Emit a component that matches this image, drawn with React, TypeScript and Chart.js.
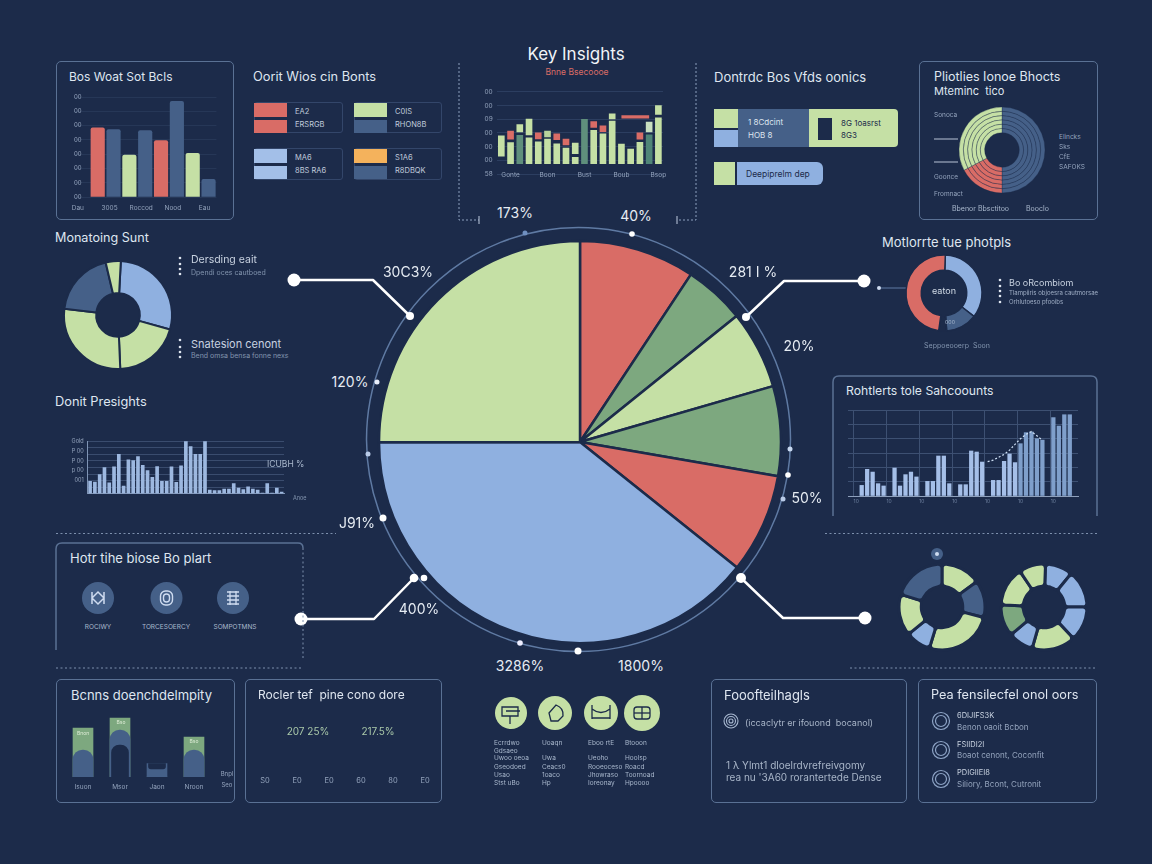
import React, { useEffect, useRef } from "react";
import { Chart, registerables } from "chart.js";
Chart.register(...registerables);

const BG = "#1c2b4a", LIME = "#c5e0a5", RED = "#d96c66", GREEN = "#7da87f", BLUE = "#8fb0e0", NAVY = "#456088", ORANGE = "#f4b25c";
const FONT = "Inter, 'Noto Sans', sans-serif";
const DIM = "#94a4bd";

// main pie
const pieLabels = ["A", "B", "C", "D", "E", "F", "G"];
const pieValues = [9.3, 4.9, 6.3, 7.2, 8.0, 39.2, 25.0];
const pieColors = [RED, GREEN, LIME, GREEN, RED, BLUE, LIME];
const pieTexts: [string, number, number][] = [["173%", 515, 213], ["40%", 636, 216], ["30C3%", 408, 272], ["281 I %", 753, 272], ["20%", 799, 346], ["120%", 350, 382], ["50%", 807, 498], ["J91%", 357, 523], ["400%", 419, 609], ["3286%", 520, 666], ["1800%", 641, 666]];

// top-left bars
const tlCats = ["Dau", "", "3005", "", "Roccod", "", "Nood", "", "Eau"];
const tlValues = [null, 4.84, 4.72, 2.93, 4.65, 3.95, 6.7, 3.05, 1.23];
const tlColors = [NAVY, RED, NAVY, LIME, NAVY, RED, NAVY, LIME, NAVY];

// key insights
const kiCats = ["", "Gonte", "", "", "", "Boon", "", "", "", "Bust", "", "", "", "Boub", "", "", "", "Bsop"];
const kiYLabels = ["58", "00", "00", "00", "09", "00", "00"];
const kiLower = [[1.31, 2.79], [.76, 2.29], [.76, 2.83], [.76, 2.64], [.76, 2.36], [.76, 2.55], [.76, 2.21], [.76, 1.9], [.76, 1.21], [.76, 4.0], [.76, 3.19], [.76, 2.93], [.76, 3.86], [.76, 2.19], [.76, 1.83], [.76, 2.31], [.76, 2.86], [.76, 4.1]];
const kiLowerColors = [LIME, LIME, "#5f8f7c", LIME, LIME, LIME, LIME, LIME, LIME, "#5f8f7c", LIME, LIME, LIME, LIME, LIME, LIME, "#4f8577", LIME];
const kiUpper = [null, [2.55, 3.14], [3.07, 3.62], [2.86, 4.02], [2.57, 3.0], [2.71, 3.14], [2.5, 2.93], [2.12, 2.55], [1.48, 2.26], null, [3.4, 3.83], [3.1, 3.52], [4.02, 4.4], null, null, [2.55, 3.0], [3.07, 3.79], [4.36, 5.0]];
const kiUpperColors = [LIME, RED, LIME, LIME, RED, "#b9d29c", RED, RED, LIME, LIME, RED, RED, LIME, LIME, LIME, RED, "#c8dfc0", LIME];
const kiLine = [null, null, null, null, null, null, null, null, null, null, null, null, null, 4.17, 4.17, 4.17, 4.17, null];

// rings panel
const stripeValues = [50, 17.2, 32.8];
const stripeColors = [NAVY, RED, LIME];

// monitoring donut
const monValues = [28.5, 20, 27.5, 19.5, 4.5];
const monColors = [BLUE, LIME, LIME, NAVY, LIME];

// insights bars
const prYLabels = ["Gold", "P 00", "P 00", "p 00", "001"];
const prValues = [1.88, 1.79, 2.92, 4.0, 1.65, 4.09, 6.02, 1.18, 5.18, 5.04, 5.65, 4.33, 3.53, 2.49, 4.14, 1.88, 1.88, 4.09, 1.74, 4.24, 8, 7.2, 6.02, 6.02, 8, .56, .47, .47, .71, .71, 1.55, .85, .61, 1.04, .71, .56, .1, 1.55, .09, .85, .24];

// right top donut
const mtValues = [126, 48, 12, 174];
const mtColors = [BLUE, NAVY, "rgba(0,0,0,0)", RED];

// right bars
const rbValues = [null, null, .74, 1.86, 1.67, .86, .7, null, 1.95, .7, 1.49, 1.67, 1.33, null, 1.02, 1.02, 2.79, 2.79, .86, null, .79, .79, 3.14, 3.07, 2.37, null, 1.09, 1.09, 2.42, 2.93, 2.33, 3.65, 4.42, 4.47, 4.0, 3.9, null, 5.47, 4.88, 5.67, 5.67, null];
const rbLine = [null, null, null, null, null, null, null, null, null, null, null, null, null, null, null, null, null, null, null, null, null, null, null, null, null, 2.4, 2.5, 2.7, 2.9, 3.2, 3.6, 4.0, 4.3, 4.5, 4.2, 3.9, null, null, null, null, null, null];

// lower-right donuts
const d1Values = [54, 50, 93, 34, 56, 73];
const d1Colors = [LIME, NAVY, LIME, BLUE, LIME, NAVY];
const d2Values = [37, 51, 47, 59, 34, 43, 53, 36];
const d2Colors = [BLUE, BLUE, BLUE, LIME, BLUE, GREEN, LIME, LIME];

// bottom-left bars
const blCats = ["Isuon", "Msor", "Jaon", "Nroon"];
const blGreen = [49, 59, 0, 40];
const blNavy = [27, 47, 13.5, 27];
const blInner = [null, [0, 32], [8, 13.5], null];

// bottom-middle axis chart
const emptyCats = ["S0", "E0", "E0", "60", "80", "E0"];
const emptyValues = [null, null, null, null, null, null];

const legendGroups = [
  { x: 254, y: 102, h: 31, c1: RED, c2: RED, t1: "EA2", t2: "ERSRGB", w: 89 },
  { x: 354, y: 102, h: 31, c1: LIME, c2: NAVY, t1: "C0IS", t2: "RHON8B", w: 88 },
  { x: 254, y: 148, h: 32, c1: "#a3bfe8", c2: "#a3bfe8", t1: "MA6", t2: "8BS RA6", w: 89 },
  { x: 354, y: 148, h: 32, c1: ORANGE, c2: NAVY, t1: "S1A6", t2: "R8DBQK", w: 88 },
];

const hideTip = { legend: { display: false }, tooltip: { enabled: false } };
const base = { animation: false, responsive: false, plugins: hideTip };
const tickFont = (size: number) => ({ size, family: FONT });
const none = "rgba(0,0,0,0)";

function ChartBox({ x, y, w, h, make }: any) {
  const ref = useRef<HTMLCanvasElement>(null);
  useEffect(() => {
    const c = new Chart(ref.current as any, make());
    return () => c.destroy();
  }, []);
  return <canvas ref={ref} width={w} height={h} style={{ position: "absolute", left: x, top: y, width: w, height: h }} />;
}

function T({ x, y, s = 10, c = "#dfe6f0", a = "left", w = 400, children }: any) {
  const tx = a === "center" ? "translate(-50%,-50%)" : "translateY(-50%)";
  return <div style={{ position: "absolute", left: x, top: y, transform: tx, fontSize: s, color: c, fontWeight: w, whiteSpace: "pre", lineHeight: 1, fontFamily: FONT }}>{children}</div>;
}

function Panel({ x, y, w, h, c = "#5a7194", r = 5, bw = 1.5 }: any) {
  return <div style={{ position: "absolute", left: x, top: y, width: w, height: h, boxSizing: "border-box", border: `${bw}px solid ${c}`, borderRadius: r }} />;
}

function Rect({ x, y, w, h, c, r = 0 }: any) {
  return <div style={{ position: "absolute", left: x, top: y, width: w, height: h, background: c, borderRadius: r }} />;
}

function donut(values: number[], colors: string[], radius: number, cutout: number, rotation: number, bw = 2, borderRadius = 0) {
  return () => ({
    type: "doughnut",
    data: { labels: values.map((_, i) => String(i)), datasets: [{ data: values, backgroundColor: colors, borderColor: BG, borderWidth: bw, borderRadius }] },
    options: { ...base, radius, cutout, rotation },
  });
}

const Dots = ({ x, ys }: any) => <>{ys.map((y: number) => <circle key={y} cx={x} cy={y} r={1.3} fill="#dfe6f0" />)}</>;

function Decor() {
  const line = { fill: "none", stroke: "#fff", strokeWidth: 2.5, strokeLinejoin: "round" as const };
  const dash = { stroke: "#7d90ad", strokeWidth: 1, strokeDasharray: "2 2.5" };
  const ringDots: [number, number, number, string][] = [[525, 233, 2.5, "#6f8fc0"], [632, 234, 2.8, "#fff"], [377, 382, 2.5, "#e8eefa"], [368, 454, 2.5, "#b9cbe8"], [383, 518, 3.5, "#fff"], [520, 643, 2.8, "#eef"], [578, 651, 3.5, "#fff"], [790, 449, 2.5, "#c8d8f0"], [788, 475, 2.8, "#fff"], [783, 499, 2.5, "#b9cbe8"]];
  const glyph = "#cfdcf0";
  return (
    <svg width={1152} height={864} style={{ position: "absolute", left: 0, top: 0 }}>
      <circle cx={578.5} cy={439.5} r={212} fill="none" stroke="#5f7aa3" strokeWidth={1.5} />
      {ringDots.map(([x, y, r, c]) => <circle key={x} cx={x} cy={y} r={r} fill={c} />)}
      <polyline points="294,280 373,280 410,316" {...line} />
      <polyline points="864,281 784,281 746,317" {...line} />
      <polyline points="301,619 374,619 414,578" {...line} />
      <polyline points="865,618 783,618 741,578" {...line} />
      {[[294, 280, 6.5], [410, 316, 4], [864, 281, 6.5], [746, 317, 4], [301, 619, 6.5], [414, 578, 4.3], [424, 578, 3.3], [865, 618, 6.5], [741, 578, 5]].map(([x, y, r]) => <circle key={x} cx={x} cy={y} r={r} fill="#fff" />)}
      <line x1={879} y1={288} x2={907} y2={288} stroke="#5f7aa3" strokeWidth={1} />
      <circle cx={879} cy={288} r={2} fill="#cfdcf0" />
      {/* dashed separators */}
      <line x1={56} y1={533.5} x2={336} y2={533.5} {...dash} />
      <line x1={825} y1={533.5} x2={1097} y2={533.5} {...dash} />
      <line x1={56} y1={668} x2={302} y2={668} {...dash} />
      <line x1={850} y1={668} x2={1097} y2={668} {...dash} />
      <line x1={303} y1={548} x2={303} y2={660} {...dash} />
      {/* key insights brackets */}
      <polyline points="459,63 459,220 479,220" fill="none" stroke="#8ca0bd" strokeWidth={1} strokeDasharray="2 2" />
      <line x1={479} y1={216} x2={479} y2={224} stroke="#c0cde0" strokeWidth={1} />
      <polyline points="696,63 696,220 677,220" fill="none" stroke="#8ca0bd" strokeWidth={1} strokeDasharray="2 2" />
      <line x1={677} y1={216} x2={677} y2={224} stroke="#c0cde0" strokeWidth={1} />
      {/* open panels */}
      <path d="M56 650 V549 Q56 543 62 543 H298 Q303 543 303 548" fill="none" stroke="#5a7194" strokeWidth={1.5} />
      <path d="M833 516 V382 Q833 376 839 376 H1091 Q1097 376 1097 382 V516" fill="none" stroke="#5a7194" strokeWidth={1.5} />
      {/* text bullets */}
      <Dots x={180} ys={[258, 264, 269, 274]} />
      <Dots x={180} ys={[340, 347, 352, 357]} />
      <Dots x={1000} ys={[280, 286, 291, 296, 302]} />
      {/* ring panel leaders */}
      {[139, 162].map((y) => <line key={y} x1={934} y1={y} x2={958} y2={y} stroke="#b8c4d6" strokeWidth={1} />)}
      {/* navy icon circles */}
      {[98, 166.5, 233].map((x) => <circle key={x} cx={x} cy={598} r={16} fill={NAVY} />)}
      <path d="M92 592 V604 M104 592 V604 M92 598 L98 592 L104 598 M92 598 L98 604 L104 598" fill="none" stroke={glyph} strokeWidth={1.5} />
      <g fill="none" stroke={glyph} strokeWidth={1.4}><rect x={160.5} y={591} width={12} height={14} rx={5} /><rect x={163.5} y={594} width={6} height={8} rx={3} /></g>
      <path d="M227 592 H239 M227 596 H239 M227 600 H239 M227 604 H239 M230 591 V605 M236 591 V605" fill="none" stroke={glyph} strokeWidth={1.3} />
      {/* lime icon circles */}
      {[[511, 16], [555, 17], [601, 17], [642, 18]].map(([x, r]) => <circle key={x} cx={x} cy={713} r={r} fill={LIME} />)}
      <g fill="none" stroke={BG} strokeWidth={1.3}>
        <path d="M502 707 H518 V716 H502 Z M506 711 H520 M510 716 V724" />
        <path d="M549 713 L556 705 Q564 708 563 716 L558 721 H551 Z" />
        <path d="M592 705 V719 M610 705 V719 M592 709 Q601 716 610 709 M592 718 H610" />
        <rect x={634} y={707} width={16} height={12} rx={3} />
        <line x1={642} y1={707} x2={642} y2={719} />
        <line x1={634} y1={713} x2={650} y2={713} />
      </g>
      <circle cx={937} cy={554} r={6} fill={NAVY} />
      <circle cx={937} cy={554} r={2} fill="#cfdcf0" />
      {[721, 750, 779].map((y) => <g key={y} fill="none" stroke="#8ea4c6" strokeWidth={1.2}><circle cx={941} cy={y} r={8.5} /><circle cx={941} cy={y} r={5.5} /></g>)}
      <g fill="none" stroke="#a8b8d0" strokeWidth={1.1}><circle cx={731} cy={721} r={7} /><circle cx={731} cy={721} r={4.5} /><circle cx={731} cy={721} r={2} /></g>
    </svg>
  );
}

export default function App() {
  useEffect(() => {
    document.body.style.margin = "0";
    document.body.style.background = BG;
  }, []);

  const mainPie = () => ({
    type: "pie",
    data: { labels: pieLabels, datasets: [{ data: pieValues, backgroundColor: pieColors, borderColor: BG, borderWidth: 2.5 }] },
    options: { ...base, radius: 201 },
  });

  const tlChart = () => ({
    type: "bar",
    data: { labels: tlCats, datasets: [{ data: tlValues, backgroundColor: tlColors, barThickness: 13.5, borderRadius: 2 }] },
    options: {
      ...base, layout: { padding: { top: 7 } },
      scales: {
        x: { grid: { display: false, drawTicks: false }, border: { display: false }, afterFit: (s: any) => { s.height = 15; }, ticks: { autoSkip: false, maxRotation: 0, padding: 7, labelOffset: -4, color: DIM, font: tickFont(6.5) } },
        y: { min: 0, max: 7, afterFit: (s: any) => { s.width = 0.6; }, border: { display: false }, grid: { color: "#263757", drawTicks: false }, ticks: { stepSize: 1, mirror: true, padding: 0, color: DIM, font: tickFont(6), callback: () => "00" } },
      },
    },
  });

  const kiChart = () => ({
    type: "bar",
    data: {
      labels: kiCats,
      datasets: [
        { type: "line", data: kiLine, borderColor: RED, borderWidth: 3.3, pointRadius: 0, order: 0 },
        { data: kiLower, backgroundColor: kiLowerColors, barThickness: 6, grouped: false, order: 2 },
        { data: kiUpper, backgroundColor: kiUpperColors, barThickness: 6, grouped: false, order: 1 },
      ],
    },
    options: {
      ...base, layout: { padding: { top: 6, right: 5 } },
      scales: {
        x: {
          grid: { display: false, drawTicks: false }, border: { display: false },
          // the labels sit level with the lowest y tick, so they must not be clipped to the axis box
          afterFit: (s: any) => { s.height = 12; s._computeLabelArea = () => undefined; },
          ticks: { autoSkip: false, maxRotation: 0, padding: -3, color: DIM, font: tickFont(6.5) },
        },
        y: { min: 0, max: 6, afterFit: (s: any) => { s.width = 18.7; }, border: { display: false }, grid: { color: "#2c3e60", drawTicks: false }, ticks: { stepSize: 1, padding: 4, color: DIM, font: tickFont(6.5), callback: (_: any, i: number) => kiYLabels[i] } },
      },
    },
  });

  const stripes = () => ({
    type: "doughnut",
    data: { labels: ["a", "b", "c"], datasets: [0, 1, 2, 3, 4, 5].map(() => ({ data: stripeValues, backgroundColor: stripeColors, borderColor: "rgba(28,43,74,0.55)", borderWidth: 0.6 })) },
    options: { ...base, radius: 43, cutout: 20 },
  });

  const prChart = () => ({
    type: "bar",
    data: { labels: prValues.map((_, i) => String(i)), datasets: [{ data: prValues, backgroundColor: "#9db8e0", barThickness: 3 }] },
    options: {
      ...base, layout: { padding: { top: 6, right: 4 } },
      scales: {
        x: { display: true, grid: { display: false }, border: { color: "#7f94b5" }, ticks: { display: false }, afterFit: (s: any) => { s.height = 4; } },
        y: {
          min: 0, max: 8, afterFit: (s: any) => { s.width = 27.7; }, border: { color: "#7f94b5" },
          grid: { drawTicks: false, color: (c: any) => (Number.isInteger(c.tick.value) ? "#3a4c6e" : none) },
          ticks: { stepSize: 0.5, autoSkip: false, padding: 4, color: DIM, font: tickFont(5.5), callback: (v: number) => { const k = (8 - v) / 1.5; return Number.isInteger(k) && prYLabels[k] ? prYLabels[k] : ""; } },
        },
      },
    },
  });

  const rbChart = () => ({
    type: "bar",
    data: {
      labels: rbValues.map((_, i) => (i % 6 === 1 ? "10" : "")),
      datasets: [
        { type: "line", data: rbLine, borderColor: "#cfe0f5", borderWidth: 1.2, borderDash: [2, 2], pointRadius: 0, order: 0 },
        { data: rbValues, backgroundColor: rbValues.map((_, i) => (i > 30 ? "#7f9fcb" : "#a5bfe8")), barThickness: 3.6, order: 1 },
      ],
    },
    options: {
      ...base, layout: { padding: { top: 6, right: 4 } },
      scales: {
        x: { border: { color: "#8ea0bc" }, afterFit: (s: any) => { s.height = 10; }, grid: { drawTicks: false, color: (c: any) => (c.index % 6 === 1 ? "#3d5072" : none) }, ticks: { autoSkip: false, maxRotation: 0, padding: 2, color: "#6f82a0", font: tickFont(5) } },
        y: { min: 0, max: 6, afterFit: (s: any) => { s.width = 8; }, border: { display: false }, grid: { color: "#3d5072", drawTicks: false }, ticks: { display: false, stepSize: 1 } },
      },
    },
  });

  const blChart = () => ({
    type: "bar",
    data: {
      labels: blCats,
      datasets: [
        { data: blInner, backgroundColor: BG, barThickness: 17, borderSkipped: false, borderRadius: (c: any) => (c.dataIndex === 2 ? { bottomLeft: 8, bottomRight: 8, topLeft: 0, topRight: 0 } : { topLeft: 8, topRight: 8, bottomLeft: 0, bottomRight: 0 }), grouped: false, order: 0 },
        { data: blNavy, backgroundColor: NAVY, barThickness: 20, borderRadius: (c: any) => (c.dataIndex === 2 ? 0 : { topLeft: 10, topRight: 10 }), grouped: false, order: 1 },
        { data: blGreen, backgroundColor: GREEN, barThickness: 20, grouped: false, order: 2 },
      ],
    },
    options: {
      ...base, layout: { padding: { top: 2, left: 8.5, right: 8.5 } },
      scales: {
        x: { grid: { display: false, drawTicks: false }, border: { display: false }, afterFit: (s: any) => { s.height = 15; }, ticks: { padding: 6, color: DIM, font: tickFont(6.5) } },
        y: { display: false, min: 0, max: 65 },
      },
    },
  });

  const emptyChart = () => ({
    type: "bar",
    data: { labels: emptyCats, datasets: [{ data: emptyValues, backgroundColor: GREEN }] },
    options: {
      ...base,
      scales: {
        x: { grid: { display: false, drawTicks: false }, border: { display: false }, afterFit: (s: any) => { s.height = 14; }, ticks: { padding: 0, color: DIM, font: tickFont(7.5) } },
        y: { display: false, min: 0, max: 10 },
      },
    },
  });

  const list = (x: number, rows: string[]) => rows.map((r, i) => r ? <T key={x + "-" + i} x={x} y={[743, 751, 758, 767, 775, 783][i]} s={6.5} c="#a9b8cd">{r}</T> : null);

  return (
    <div style={{ position: "absolute", left: 0, top: 0, width: 1152, height: 864, background: BG, overflow: "hidden", fontFamily: FONT }}>
      <Decor />
      <ChartBox x={369} y={231} w={422} h={422} make={mainPie} />
      {pieTexts.map(([t, x, y]) => <T key={t} x={x} y={y} s={14} a="center" c="#e6ecf3">{t}</T>)}

      {/* top left */}
      <Panel x={56} y={61} w={178} h={159} />
      <T x={69} y={77} s={12}>Bos Woat Sot Bcls</T>
      <ChartBox x={69} y={90} w={152} h={122} make={tlChart} />

      {/* legends */}
      <T x={253} y={77} s={12.8}>Oorit Wios cin Bonts</T>
      {legendGroups.map((g) => (
        <React.Fragment key={g.t1}>
          <Panel x={g.x} y={g.y} w={g.w} h={g.h} c="#33466a" r={3} bw={1} />
          <Rect x={g.x} y={g.y + 1} w={33} h={14} c={g.c1} />
          <Rect x={g.x} y={g.y + 18} w={33} h={13} c={g.c2} />
          <T x={g.x + 41} y={g.y + 10} s={7.5} c="#c0cbdc">{g.t1}</T>
          <T x={g.x + 41} y={g.y + 23} s={7.5} c="#c0cbdc">{g.t2}</T>
        </React.Fragment>
      ))}

      {/* key insights */}
      <T x={576} y={54} s={17} a="center" c="#f0f4f8">Key Insights</T>
      <T x={577} y={72} s={8.5} a="center" c={RED}>Bnne Bsecoooe</T>
      <ChartBox x={478} y={84} w={190} h={102} make={kiChart} />

      {/* top right blocks */}
      <T x={714} y={77} s={13}>Dontrdc Bos Vfds oonics</T>
      <Rect x={714} y={109} w={24} h={19} c={LIME} />
      <Rect x={714} y={130} w={24} h={17} c={BLUE} />
      <Rect x={738} y={109} w={71} h={38} c={NAVY} />
      <Rect x={809} y={109} w={89} h={38} c={LIME} r="0 4px 4px 0" />
      <Rect x={818} y={118} w={14} h={22} c={BG} />
      <T x={748} y={122} s={8} c="#dfe6f0">1 8Cdcint</T>
      <T x={748} y={135} s={8} c="#dfe6f0">HOB 8</T>
      <T x={841} y={123} s={8} c={BG}>8G 1oasrst</T>
      <T x={841} y={135} s={8} c={BG}>8G3</T>
      <Rect x={714} y={162} w={21} h={23} c={LIME} />
      <Rect x={737} y={162} w={86} h={23} c={BLUE} r="0 6px 6px 0" />
      <T x={746} y={174} s={8.5} c={BG}>Deepiprelm dep</T>

      {/* ring panel */}
      <Panel x={919} y={61} w={179} h={159} />
      <T x={934} y={77} s={12.5}>Pliotlies Ionoe Bhocts</T>
      <T x={934} y={91} s={11}>Mteminc  tico</T>
      <ChartBox x={952} y={100} w={100} h={100} make={stripes} />
      <T x={934} y={115} s={6.5} c={DIM}>Sonoca</T>
      <T x={934} y={177} s={6.5} c={DIM}>Goonce</T>
      <T x={934} y={194} s={6.5} c={DIM}>Fromnact</T>
      <T x={1059} y={137} s={6.5} c={DIM}>Elincks</T>
      <T x={1059} y={147} s={6.5} c={DIM}>Sks</T>
      <T x={1059} y={157} s={6.5} c={DIM}>CfE</T>
      <T x={1059} y={167} s={6.5} c={DIM}>SAFOKS</T>
      <T x={952} y={208} s={7} c="#a9b8cd">Bbenor Bbsctitoo</T>
      <T x={1026} y={208} s={7} c="#a9b8cd">Booclo</T>

      {/* monitoring */}
      <T x={55} y={238} s={12.6}>Monatoing Sunt</T>
      <ChartBox x={60} y={257} w={116} h={116} make={donut(monValues, monColors, 54, 23, 3, 2)} />
      <T x={191} y={260} s={10.5} c="#c8d2e0">Dersding eait</T>
      <T x={191} y={272} s={7} c="#8294ae">Dpendi oces cautboed</T>
      <T x={191} y={344} s={11} c="#c8d2e0">Snatesion cenont</T>
      <T x={191} y={355} s={7} c="#8294ae">Bend omsa bensa fonne nexs</T>

      {/* insights bars */}
      <T x={55} y={402} s={12.8}>Donit Presights</T>
      <ChartBox x={60} y={434} w={228} h={67} make={prChart} />
      <T x={267} y={464} s={8.5} c="#a9b8cd">ICUBH %</T>
      <T x={293} y={499} s={5.5} c="#8294ae">Anoe</T>

      {/* right donut */}
      <T x={882} y={242} s={13}>Motlorrte tue photpls</T>
      <ChartBox x={904} y={253} w={80} h={80} make={donut(mtValues, mtColors, 38, 23.5, 2, 1.5)} />
      <T x={944} y={290} s={9} a="center" c="#d3dce8">eaton</T>
      <T x={950} y={323} s={5.5} a="center" c="#9fb0c8">ooo</T>
      <T x={1009} y={282} s={9} c="#c8d2e0">Bo oRcombiom</T>
      <T x={1009} y={293} s={6} c="#a0afc6">Tlampiiris objoesra cautmorsae</T>
      <T x={1009} y={302} s={6} c="#a0afc6">Orhlutoeso pfooibs</T>
      <T x={957} y={345} s={7} a="center" c="#8294ae">Seppoeooerp  Soon</T>

      {/* right bars */}
      <T x={846} y={391} s={12.2}>Rohtlerts tole Sahcoounts</T>
      <ChartBox x={840} y={404} w={242} h={102} make={rbChart} />

      {/* icons panel */}
      <T x={70} y={558} s={13}>Hotr tihe biose Bo plart</T>
      <T x={98} y={627} s={6.5} a="center" c="#a9b8cd">ROCIWY</T>
      <T x={166} y={627} s={6.5} a="center" c="#a9b8cd">TORCESOERCY</T>
      <T x={235} y={627} s={6.5} a="center" c="#a9b8cd">SOMPOTMNS</T>

      {/* lower-right donuts */}
      <ChartBox x={897} y={562} w={90} h={90} make={donut(d1Values, d1Colors, 43, 21, 0, 3, 4)} />
      <ChartBox x={999} y={562} w={90} h={90} make={donut(d2Values, d2Colors, 43, 21, 2, 3, 4)} />

      {/* bottom panels */}
      <Panel x={56} y={679} w={179} h={124} />
      <T x={71} y={695} s={13}>Bcnns doenchdelmpity</T>
      <ChartBox x={56} y={710} w={165} h={82} make={blChart} />
      <T x={83} y={733} s={5} a="center" c="#dcebd4">Bnon</T>
      <T x={121} y={722} s={5} a="center" c="#dcebd4">Bso</T>
      <T x={194} y={741} s={5} a="center" c="#dcebd4">Bso</T>
      <T x={227} y={774} s={6} a="center" c={DIM}>Bnpl</T>
      <T x={227} y={785} s={6} a="center" c={DIM}>Seo</T>

      <Panel x={245} y={679} w={197} h={124} />
      <T x={258} y={695} s={12}>Rocler tef  pine cono dore</T>
      <T x={308} y={731} s={10} a="center" c="#a9c8a9">207 25%</T>
      <T x={378} y={731} s={10} a="center" c="#a9c8a9">217.5%</T>
      <ChartBox x={249} y={720} w={192} h={70} make={emptyChart} />

      {list(494, ["Ecrrdwo", "Gdsaeo", "Uwoo oeoa", "Gseodoed", "Usao", "Stst uBo"])}
      {list(542, ["Uoaqn", "", "Uwa", "Ceacs0", "1oaco", "Hp"])}
      {list(588, ["Eboo rtE", "", "Ueoho", "Rooeoceso", "Jhowraso", "Ioreonay"])}
      {list(625, ["Btooon", "", "Hoolsp", "Roacd", "Toornoad", "Hpoooo"])}

      <Panel x={711} y={679} w={196} h={124} />
      <T x={724} y={695} s={13}>Fooofteilhagls</T>
      <T x={745} y={722} s={9} c="#a8b5c8">(iccaclytr er ifouond  bocanol)</T>
      <T x={726} y={765} s={10} c="#a8b5c8">1 λ Ylmt1 dloelrdvrefreivgomy</T>
      <T x={726} y={777} s={10} c="#a8b5c8">rea nu '3A60 rorantertede Dense</T>

      <Panel x={918} y={679} w={179} h={124} />
      <T x={931} y={695} s={12.7}>Pea fensilecfel onol oors</T>
      <T x={957} y={716} s={7.5} c="#c8d2e0">6DIJIFS3K</T>
      <T x={957} y={727} s={8} c="#94a4bd">Benon oaoit Bcbon</T>
      <T x={957} y={745} s={7.5} c="#c8d2e0">FSIIDI2I</T>
      <T x={957} y={755} s={8} c="#94a4bd">Boaot cenont, Coconfit</T>
      <T x={957} y={773} s={7.5} c="#c8d2e0">PDIGIIEI8</T>
      <T x={957} y={784} s={8} c="#94a4bd">Siliory, Bcont, Cutronit</T>
    </div>
  );
}
